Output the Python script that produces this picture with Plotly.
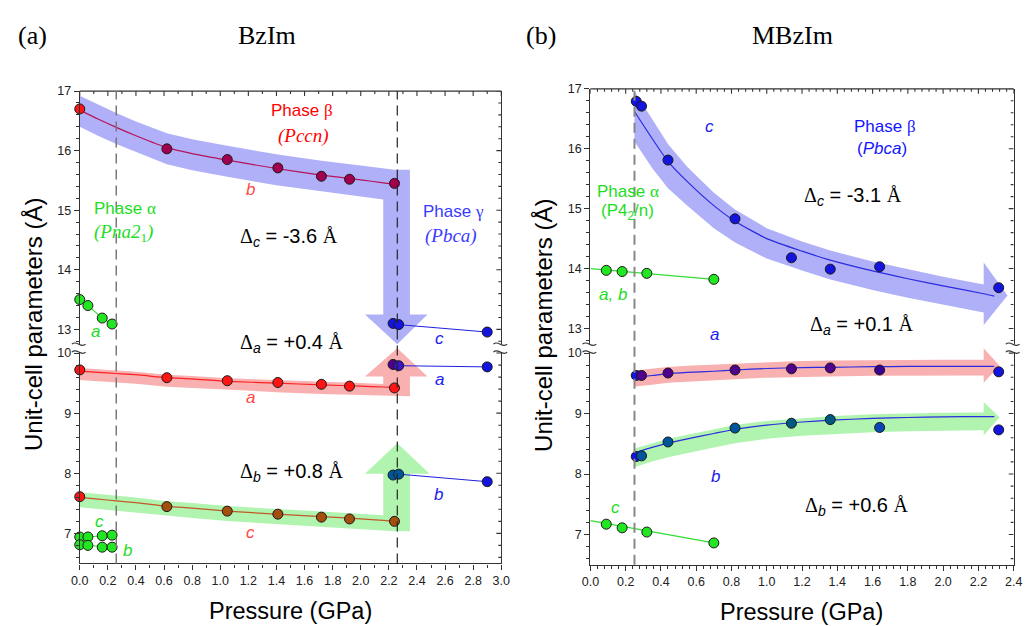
import numpy as np
import plotly.graph_objects as go

W, H = 1033, 626

# ---------------- BzIm: unit-cell parameters vs pressure ----------------
p_beta_bz = [0.0, 0.62, 1.05, 1.41, 1.72, 1.92, 2.24]
b_beta_bz = [16.70, 16.03, 15.85, 15.71, 15.57, 15.52, 15.45]
a_beta_bz = [9.72, 9.59, 9.54, 9.51, 9.48, 9.45, 9.42]
c_beta_bz = [7.61, 7.445, 7.37, 7.32, 7.27, 7.24, 7.20]

p_alpha_bz = [0.0, 0.058, 0.16, 0.23]
a_alpha_bz = [13.50, 13.40, 13.19, 13.09]
c_alpha_bz = [6.94, 6.94, 6.96, 6.97]
b_alpha_bz = [6.81, 6.80, 6.77, 6.77]

p_gamma_bz = [2.23, 2.27, 2.90]
c_gamma_bz = [13.10, 13.08, 12.955]
a_gamma_bz = [9.81, 9.79, 9.77]
b_gamma_bz = [7.97, 7.985, 7.86]

# fitted curves through the beta-phase points
p_fit_bz = [0.0, 0.13, 0.26, 0.40, 0.62, 0.80, 1.05, 1.40, 1.72, 2.00, 2.16, 2.24]
b_fit_bz = [16.68, 16.53, 16.39, 16.25, 16.05, 15.95, 15.84, 15.70, 15.59, 15.51, 15.46, 15.44]
a_fit_bz = [9.70, 9.68, 9.66, 9.64, 9.59, 9.57, 9.53, 9.50, 9.47, 9.45, 9.435, 9.43]
c_fit_bz = [7.60, 7.57, 7.54, 7.51, 7.45, 7.42, 7.37, 7.32, 7.28, 7.24, 7.215, 7.20]

# ---------------- MBzIm: unit-cell parameters vs pressure ----------------
p_beta_mb = [0.26, 0.29, 0.44, 0.82, 1.14, 1.36, 1.64, 2.315]
c_beta_mb = [16.79, 16.71, 15.81, 14.83, 14.18, 13.99, 14.03, 13.68]
a_beta_mb = [9.63, 9.63, 9.67, 9.72, 9.74, 9.755, 9.72, 9.69]
b_beta_mb = [8.29, 8.30, 8.53, 8.76, 8.84, 8.90, 8.77, 8.73]

p_alpha_mb = [0.09, 0.18, 0.32, 0.70]
ab_alpha_mb = [13.97, 13.95, 13.92, 13.82]
c_alpha_mb = [7.17, 7.11, 7.04, 6.86]

p_alpha_fit_mb = [0.0, 0.70]
ab_alpha_fit_mb = [14.00, 13.82]
c_alpha_fit_mb = [7.23, 6.86]

p_fit_mb = [0.25, 0.35, 0.44, 0.55, 0.70, 0.82, 1.00, 1.20, 1.36, 1.60, 1.80, 2.00, 2.23, 2.29]
c_fit_mb = [16.62, 16.17, 15.79, 15.45, 15.05, 14.79, 14.50, 14.29, 14.14, 13.96, 13.83, 13.71, 13.58, 13.54]
a_fit_mb = [9.60, 9.63, 9.66, 9.68, 9.70, 9.72, 9.745, 9.76, 9.765, 9.775, 9.78, 9.78, 9.78, 9.78]
b_fit_mb = [8.35, 8.44, 8.51, 8.58, 8.67, 8.74, 8.81, 8.86, 8.89, 8.92, 8.935, 8.945, 8.95, 8.95]

# phase-transition pressures
trans_bz = [0.26, 2.26]
trans_mb = [0.25]

# ---------------- styling ----------------
SANS = "Liberation Sans, Arial, sans-serif"
SERIF = "Liberation Serif, Times New Roman, serif"
AX = "#333333"
RED, GREEN, BLUE = "#FF1414", "#22E622", "#1414E0"
PURPLE, MAROON, BROWN, TEAL = "#50008C", "#A0004F", "#A4500C", "#00569A"
BAND_BLUE = "rgba(80,80,240,0.45)"
BAND_RED = "rgba(240,80,80,0.45)"
BAND_GREEN = "rgba(80,230,80,0.45)"

# plot-area geometry (pixels)
LX_PX, RX_PX = (72, 501), (591.7, 1022.5)
LX = [LX_PX[0] / W, LX_PX[1] / W]
RX = [RX_PX[0] / W, RX_PX[1] / W]
Y_SPLIT = 1 - 345 / H
LYU, LYL = [Y_SPLIT, 1 - 85 / H], [1 - 562.7 / H, Y_SPLIT]
RYU, RYL = [Y_SPLIT, 1 - 82.7 / H], [1 - 564 / H, Y_SPLIT]
L_XMAX, R_XMAX = 3.0, 2.4
L_UP, L_LO = [12.685, 17], [6.5, 10.082]
R_UP, R_LO = [12.672, 17], [6.5, 10.082]
L_PPX = (LX_PX[1] - LX_PX[0]) / L_XMAX
L_PPY_UP = (345 - 85) / (L_UP[1] - L_UP[0])
R_PPX = (RX_PX[1] - RX_PX[0]) / R_XMAX
R_PPY_UP = (345 - 82.7) / (R_UP[1] - R_UP[0])
R_PPY_LO = (564 - 345) / (R_LO[1] - R_LO[0])

fig = go.Figure()


def add_poly(X, Y, color, xa, ya):
    fig.add_trace(go.Scatter(x=X, y=Y, mode="lines", fill="toself", fillcolor=color,
                             line=dict(width=0, color=color), hoverinfo="skip",
                             xaxis=xa, yaxis=ya))


def turn_arrow(xs, ys, off, half, x_l, x_r, wing_y, wing_x0, wing_x1, tip, sign):
    """Band along a curve that bends into a vertical arrow (sign=+1 down, -1 up)."""
    xs = np.asarray(xs, float)
    c = np.asarray(ys, float) + off
    outer, inner = c + sign * half, c - sign * half
    keep = xs <= x_l + 1e-9
    X = list(xs) + [x_r, x_r, wing_x1, tip[0], wing_x0, x_l] + list(xs[keep][::-1])
    Y = list(outer) + [outer[-1], wing_y, wing_y, tip[1], wing_y, wing_y] + list(inner[keep][::-1])
    return X, Y


def flow_arrow(xs, ys, off, half_px, x_end, wing_hi, wing_lo, tip, ppx, ppy):
    """Band of constant on-screen thickness along a curve ending in an arrow head."""
    xs = np.asarray(xs, float)
    c = np.asarray(ys, float) + off
    keep = xs <= x_end + 1e-9
    xs, c = xs[keep], c[keep]
    s = np.gradient(c, xs) * ppy / ppx
    h = half_px * np.sqrt(1 + s ** 2) / ppy
    X = list(xs) + [x_end, tip[0], x_end] + list(xs[::-1])
    Y = list(c + h) + [wing_hi, tip[1], wing_lo] + list((c - h)[::-1])
    return X, Y


# ---- BzIm arrows
add_poly(*turn_arrow(p_fit_bz, b_fit_bz, -0.02, 0.26, 2.16, 2.35, 13.25, 2.03, 2.475, (2.26, 12.75), +1),
         BAND_BLUE, "x", "y")
add_poly(*turn_arrow(p_fit_bz, a_fit_bz, -0.05, 0.10, 2.16, 2.35, 9.61, 2.03, 2.475, (2.26, 10.08), -1),
         BAND_RED, "x", "y2")
add_poly(*turn_arrow(p_fit_bz, c_fit_bz, -0.04, 0.125, 2.16, 2.35, 7.99, 2.03, 2.49, (2.26, 8.50), -1),
         BAND_GREEN, "x", "y2")

# ---- MBzIm arrows
add_poly(*flow_arrow(p_fit_mb, c_fit_mb, -0.08, 14, 2.23, 14.10, 13.06, (2.365, 13.55), R_PPX, R_PPY_UP),
         BAND_BLUE, "x2", "y3")
add_poly(*flow_arrow(p_fit_mb, a_fit_mb, -0.02, 8, 2.23, 10.08, 9.51, (2.32, 9.79), R_PPX, R_PPY_LO),
         BAND_RED, "x2", "y4")
add_poly(*flow_arrow(p_fit_mb, b_fit_mb, -0.08, 9, 2.23, 9.19, 8.64, (2.32, 8.94), R_PPX, R_PPY_LO),
         BAND_GREEN, "x2", "y4")


def add_line(x, y, color, xa, ya, width=1.2, spline=False):
    fig.add_trace(go.Scatter(x=x, y=y, mode="lines", hoverinfo="skip",
                             line=dict(color=color, width=width,
                                       shape="spline" if spline else "linear", smoothing=0.6),
                             xaxis=xa, yaxis=ya))


def add_pts(x, y, colors, xa, ya, line=False, line_color=None):
    fig.add_trace(go.Scatter(x=x, y=y, mode="lines+markers" if line else "markers",
                             line=dict(color=line_color or "#000", width=1.1),
                             marker=dict(size=10, color=colors, line=dict(color="#1a1a1a", width=1)),
                             cliponaxis=False, xaxis=xa, yaxis=ya))


# ---- BzIm curves and points
add_line(p_fit_bz, b_fit_bz, "#B4145A", "x", "y", spline=True)
add_line(p_fit_bz, a_fit_bz, "#FF2020", "x", "y2", spline=True)
add_line(p_fit_bz, c_fit_bz, "#C05A28", "x", "y2", spline=True)

add_pts(p_beta_bz, b_beta_bz, [RED] + [MAROON] * 6, "x", "y")
add_pts(p_beta_bz, a_beta_bz, [RED] * 7, "x", "y2")
add_pts(p_beta_bz, c_beta_bz, [RED] + [BROWN] * 6, "x", "y2")

add_pts(p_alpha_bz, a_alpha_bz, GREEN, "x", "y", line=True, line_color="#33DD33")
add_pts(p_alpha_bz, c_alpha_bz, GREEN, "x", "y2", line=True, line_color="#33DD33")
add_pts(p_alpha_bz, b_alpha_bz, GREEN, "x", "y2", line=True, line_color="#33DD33")

add_line(p_gamma_bz[1:], c_gamma_bz[1:], "#2020E0", "x", "y", width=1)
add_line(p_gamma_bz[1:], a_gamma_bz[1:], "#2020E0", "x", "y2", width=1)
add_line(p_gamma_bz[1:], b_gamma_bz[1:], "#2020E0", "x", "y2", width=1)
add_pts(p_gamma_bz, c_gamma_bz, [BLUE] * 3, "x", "y")
add_pts(p_gamma_bz, a_gamma_bz, [PURPLE, "#3A14C8", BLUE], "x", "y2")
add_pts(p_gamma_bz, b_gamma_bz, [TEAL, TEAL, BLUE], "x", "y2")

# ---- MBzIm curves and points
add_line(p_fit_mb, c_fit_mb, "#2B2BE0", "x2", "y3", spline=True)
add_line(p_fit_mb, a_fit_mb, "#2B2BE0", "x2", "y4", spline=True)
add_line(p_fit_mb, b_fit_mb, "#2B2BE0", "x2", "y4", spline=True)
add_line(p_alpha_fit_mb, ab_alpha_fit_mb, "#33DD33", "x2", "y3")
add_line(p_alpha_fit_mb, c_alpha_fit_mb, "#33DD33", "x2", "y4")

add_pts(p_beta_mb, c_beta_mb, [BLUE] * 8, "x2", "y3")
add_pts(p_beta_mb, a_beta_mb, [BLUE, PURPLE, PURPLE, PURPLE, PURPLE, PURPLE, "#3A0090", BLUE], "x2", "y4")
add_pts(p_beta_mb, b_beta_mb, [BLUE, TEAL, TEAL, TEAL, "#005A80", "#005A80", "#0A46B4", BLUE], "x2", "y4")
add_pts(p_alpha_mb, ab_alpha_mb, GREEN, "x2", "y3")
add_pts(p_alpha_mb, c_alpha_mb, GREEN, "x2", "y4")


# ---------------- inward ticks along the top and right edges ----------------
def edge_ticks(xmax, x_minor, up, lo, ppx, ppy_up, xa, ya_up, ya_lo):
    X, Y = [], []
    for v in np.arange(0, xmax + 1e-9, x_minor):
        v = float(round(v, 4))
        L = 5 if abs(v / 0.2 - round(v / 0.2)) < 1e-6 else 3
        X += [v, v, None]
        Y += [up[1], up[1] - L / ppy_up, None]
    for v in np.arange(np.ceil(up[0] * 5) / 5, up[1] + 1e-9, 0.2):
        v = float(round(v, 3))
        L = 5 if abs(v - round(v)) < 1e-6 else 3
        X += [xmax, xmax - L / ppx, None]
        Y += [v, v, None]
    fig.add_trace(go.Scatter(x=X, y=Y, mode="lines", line=dict(color=AX, width=1.1),
                             hoverinfo="skip", xaxis=xa, yaxis=ya_up))
    X, Y = [], []
    for v in np.arange(np.ceil(lo[0] * 5) / 5, lo[1] + 1e-9, 0.2):
        v = float(round(v, 3))
        L = 5 if abs(v - round(v)) < 1e-6 else 3
        X += [xmax, xmax - L / ppx, None]
        Y += [v, v, None]
    fig.add_trace(go.Scatter(x=X, y=Y, mode="lines", line=dict(color=AX, width=1.1),
                             hoverinfo="skip", xaxis=xa, yaxis=ya_lo))


edge_ticks(L_XMAX, 0.1, L_UP, L_LO, L_PPX, L_PPY_UP, "x", "y", "y2")
edge_ticks(R_XMAX, 0.04, R_UP, R_LO, R_PPX, R_PPY_UP, "x2", "y3", "y4")


# ---------------- axes ----------------
def ax(**kw):
    d = dict(showline=True, linecolor=AX, linewidth=1.3, showgrid=False, zeroline=False,
             ticks="outside", ticklen=5, tickwidth=1.2, tickcolor=AX,
             tickfont=dict(family=SANS, size=12.5, color="#222"))
    d.update(kw)
    return d


def minor(dt):
    return dict(dtick=dt, ticks="outside", ticklen=3, tickwidth=1, tickcolor=AX)


fig.update_layout(
    width=W, height=H, margin=dict(l=0, r=0, t=0, b=0),
    paper_bgcolor="white", plot_bgcolor="white", showlegend=False,
    xaxis=ax(domain=LX, range=[0, L_XMAX], anchor="y2", dtick=0.2, tick0=0, tickformat=".1f",
             minor=minor(0.1)),
    yaxis=ax(domain=LYU, range=L_UP, anchor="x", dtick=1, tick0=13, minor=minor(0.2), mirror=True),
    yaxis2=ax(domain=LYL, range=L_LO, anchor="x", dtick=1, tick0=7, minor=minor(0.2), mirror=True),
    xaxis2=ax(domain=RX, range=[0, R_XMAX], anchor="y4", dtick=0.2, tick0=0, tickformat=".1f",
              minor=minor(0.04)),
    yaxis3=ax(domain=RYU, range=R_UP, anchor="x2", dtick=1, tick0=13, minor=minor(0.2), mirror=True),
    yaxis4=ax(domain=RYL, range=R_LO, anchor="x2", dtick=1, tick0=7, minor=minor(0.2), mirror=True),
)


def px(v):
    return v / W


def py(v):
    return 1 - v / H


shapes = []
# top edges of both panels
for xd, yt in ((LX, LYU[1]), (RX, RYU[1])):
    shapes.append(dict(type="line", xref="paper", yref="paper", x0=xd[0], x1=xd[1], y0=yt, y1=yt,
                       line=dict(color=AX, width=1.3), layer="above"))

# transition lines
shapes.append(dict(type="line", xref="x", yref="paper", x0=trans_bz[0], x1=trans_bz[0],
                   y0=LYL[0], y1=LYU[1], line=dict(color="#777", width=1.5, dash="10px,6px")))
shapes.append(dict(type="line", xref="x", yref="paper", x0=trans_bz[1], x1=trans_bz[1],
                   y0=LYL[0], y1=LYU[1], line=dict(color="#222", width=1.2, dash="10px,6px")))
shapes.append(dict(type="line", xref="x2", yref="paper", x0=trans_mb[0], x1=trans_mb[0],
                   y0=RYL[0], y1=RYU[1], line=dict(color="#888", width=2, dash="10px,6px")))

# axis-break marks
for X in (LX_PX[0], LX_PX[1], RX_PX[0], RX_PX[1]):
    shapes.append(dict(type="rect", xref="paper", yref="paper", x0=px(X - 2.5), x1=px(X + 2.5),
                       y0=py(349), y1=py(341), fillcolor="white", line=dict(width=0), layer="above"))
    for yy in (341, 349):
        x0, x1 = X - 8, X + 6
        path = (f"M {px(x0)},{py(yy)} C {px(x0 + 5)},{py(yy - 5)} "
                f"{px(x1 - 5)},{py(yy + 5)} {px(x1)},{py(yy)}")
        shapes.append(dict(type="path", xref="paper", yref="paper", path=path,
                           line=dict(color=AX, width=1.1), layer="above"))
fig.update_layout(shapes=shapes)

# ---------------- text ----------------
anns = []


def t(text, x, y, size=17, color="#000", family=SANS, angle=0):
    anns.append(dict(text=text, x=px(x), y=py(y), xref="paper", yref="paper", showarrow=False,
                     xanchor="center", yanchor="middle", textangle=angle,
                     font=dict(family=family, size=size, color=color)))


def serif(s):
    return f"<span style='font-family:Liberation Serif'>{s}</span>"


def delta(sub, val):
    return f"{serif('Δ')}<sub><i>{sub}</i></sub> = {val} {serif('Å')}"


RED_T, RED_L = "#FF0000", "#FF4848"
GREEN_T = "#22DD22"
BLUE_T, BLUE_L = "#3A3AFF", "#2020EE"

# panel (a)
t("(a)", 24, 29, 26, "#000", SERIF)
t("BzIm", 263, 29, 26, "#000", SERIF)
t(f"Phase {serif('β')}", 298, 105, 17, RED_T)
t("<i>(Pccn)</i>", 300, 130, 19, RED_T, SERIF)
t("<i>b</i>", 246, 185, 17, RED_L)
t(f"Phase {serif('α')}", 118, 204, 17, GREEN_T)
t("<i>(Pna2</i><sub>1</sub><i>)</i>", 117, 229, 19, GREEN_T, SERIF)
t(delta("c", "-3.6"), 285, 233, 20)
t(f"Phase {serif('γ')}", 452, 207, 17, BLUE_T)
t("<i>(Pbca)</i>", 450, 232, 19, BLUE_T, SERIF)
t("<i>a</i>", 88, 328, 17, GREEN_T)
t(delta("a", "+0.4"), 288, 340, 20)
t("<i>c</i>", 438, 335, 17, BLUE_L)
t("<i>a</i>", 438, 377, 17, BLUE_L)
t("<i>a</i>", 246, 395, 17, RED_L)
t(delta("b", "+0.8"), 288, 471, 20)
t("<i>b</i>", 437, 493, 17, BLUE_L)
t("<i>c</i>", 92, 520, 17, GREEN_T)
t("<i>b</i>", 121, 550, 17, GREEN_T)
t("<i>c</i>", 246, 531, 17, RED_L)
t("Pressure (GPa)", 287, 611, 23.5)
t("Unit-cell parameters (Å)", 25, 321, 24, angle=-90)

# panel (b)
t("(b)", 541, 29, 26, "#000", SERIF)
t("MBzIm", 797, 29, 26, "#000", SERIF)
t("<i>c</i>", 713, 121, 17, BLUE_L)
t(f"Phase {serif('β')}", 892, 121, 17, "#1414FF")
t("(<i>Pbca</i>)", 888, 143, 17, "#1414FF")
t(f"Phase {serif('α')}", 630, 187, 17, GREEN_T)
t("(P4<sub>2</sub>/n)", 629, 207, 17, GREEN_T)
t(delta("c", "-3.1"), 859, 192, 20)
t("<i>a, b</i>", 615, 291, 17, GREEN_T)
t("<i>a</i>", 718, 331, 17, BLUE_L)
t(delta("a", "+0.1"), 868, 322, 20)
t("<i>b</i>", 719, 475, 17, BLUE_L)
t("<i>c</i>", 617, 506, 17, GREEN_T)
t(delta("b", "+0.6"), 863, 505, 20)
t("Pressure (GPa)", 807, 612, 23.5)
t("Unit-cell parameters (Å)", 544, 322, 24, angle=-90)

fig.update_layout(annotations=anns)
fig.write_html("out.html")
